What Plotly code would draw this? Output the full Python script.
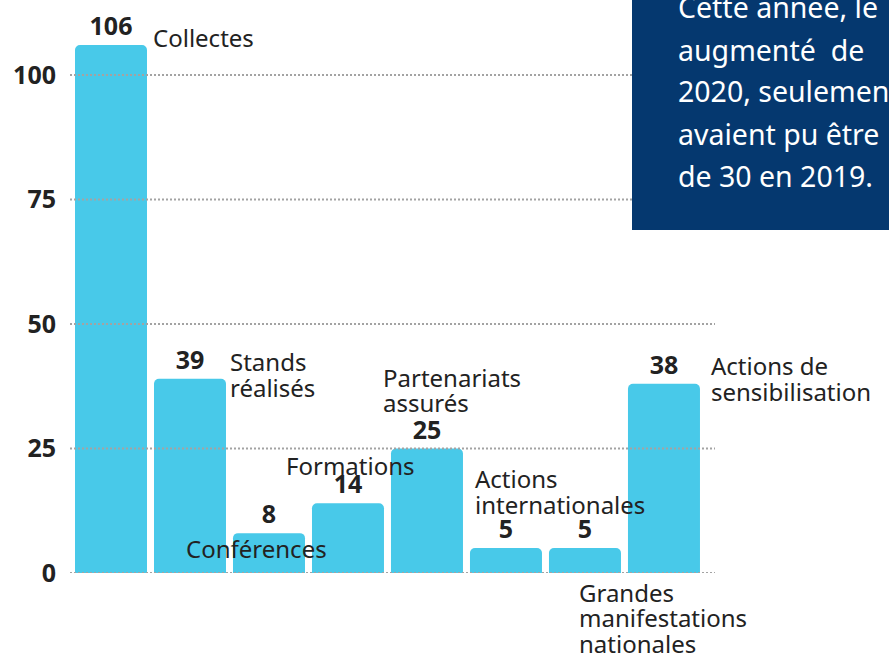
import plotly.graph_objects as go

# ---- data ----
categories = ["Collectes", "Stands réalisés", "Conférences", "Formations",
              "Partenariats assurés", "Actions internationales",
              "Grandes manifestations nationales", "Actions de sensibilisation"]
values = [106, 39, 8, 14, 25, 5, 5, 38]
label_texts = ["Collectes", "Stands<br>réalisés", "Conférences", "Formations",
               "Partenariats<br>assurés", "Actions<br>internationales",
               "Grandes<br>manifestations<br>nationales", "Actions de<br>sensibilisation"]
tick_values = [0, 25, 50, 75, 100]
box_lines = ["Cette année, le", "augmenté  de", "2020, seulement",
             "avaient pu être", "de 30 en 2019."]

# ---- layout / style ----
W, H = 889, 655
ML, MR, MT, MB = 70, 174, 27, 82
PX_PER_UNIT = 4.98
Y0_PX = H - MB
FONT = "Noto Sans"
BAR_COLOR = "#48C9E9"
BOX_COLOR = "#05386F"
TEXT_COLOR = "#222222"
LABEL_SIZE = 24
BOX_SIZE = 28.5

# label placement: (left offset from bar centre in px, first baseline px, line step px)
label_place = [(42, 46.7, 26), (40, 371, 26), (-83, 558, 26), (-62, 475, 26),
               (-44, 386.7, 25), (-31, 488, 26), (-6, 601.7, 25.5), (47, 375, 26)]

fig = go.Figure()
fig.add_trace(go.Bar(
    x=categories, y=values,
    marker=dict(color=BAR_COLOR, cornerradius=5, line=dict(width=0)),
    text=[str(v) for v in values], textposition="outside",
    textfont=dict(family=FONT, size=25, color=TEXT_COLOR, weight="bold"),
    cliponaxis=False, constraintext="none", hoverinfo="skip",
))

annotations = []
for cat, txt, (dx, base, step) in zip(categories, label_texts, label_place):
    for k, line in enumerate(txt.split("<br>")):
        b = base + k * step
        annotations.append(dict(
            x=cat, y=0, xref="x", yref="y", text=line, showarrow=False,
            xanchor="left", yanchor="middle", xshift=dx,
            yshift=Y0_PX - (b - 0.388 * LABEL_SIZE),
            font=dict(family=FONT, size=LABEL_SIZE, color=TEXT_COLOR),
            borderpad=0, borderwidth=0,
        ))

plot_w = W - ML - MR
plot_h = H - MT - MB


def px_to_paper_x(px):
    return (px - ML) / plot_w


def px_to_paper_y(py):
    return (Y0_PX - py) / plot_h


box_base = [18.3, 61, 101.7, 145, 186.7]
for line, b in zip(box_lines, box_base):
    annotations.append(dict(
        x=px_to_paper_x(678), y=px_to_paper_y(b - 0.388 * BOX_SIZE),
        xref="paper", yref="paper", text=line, showarrow=False,
        xanchor="left", yanchor="middle",
        font=dict(family=FONT, size=BOX_SIZE, color="white"),
        borderpad=0, borderwidth=0,
    ))

shapes = []
for tv in tick_values:
    shapes.append(dict(type="line", xref="paper", yref="y", x0=0, x1=1, y0=tv, y1=tv,
                       line=dict(color="#A3A3A3", width=2, dash="2px,2px"), layer="above"))
shapes.append(dict(type="rect", xref="paper", yref="paper",
                   x0=px_to_paper_x(632), x1=px_to_paper_x(W + 20),
                   y0=px_to_paper_y(230), y1=px_to_paper_y(-10),
                   fillcolor=BOX_COLOR, line=dict(width=0), layer="above"))

fig.update_layout(
    width=W, height=H, margin=dict(l=ML, r=MR, t=MT, b=MB),
    plot_bgcolor="white", paper_bgcolor="white", showlegend=False,
    bargap=0.0886,
    xaxis=dict(range=[-0.519, 7.646], showticklabels=False, showgrid=False,
               zeroline=False, showline=False, fixedrange=True),
    yaxis=dict(range=[0, plot_h / PX_PER_UNIT], tickvals=tick_values,
               showgrid=False, zeroline=False, showline=False,
               ticks="outside", ticklen=4, tickcolor="rgba(0,0,0,0)",
               ticklabelstandoff=4, fixedrange=True,
               tickfont=dict(family=FONT, size=25, color=TEXT_COLOR, weight="bold")),
    annotations=annotations, shapes=shapes,
)

fig.write_html("out.html", config={"displayModeBar": False},
               post_script="document.body.style.margin='0';document.body.style.overflow='hidden';")
